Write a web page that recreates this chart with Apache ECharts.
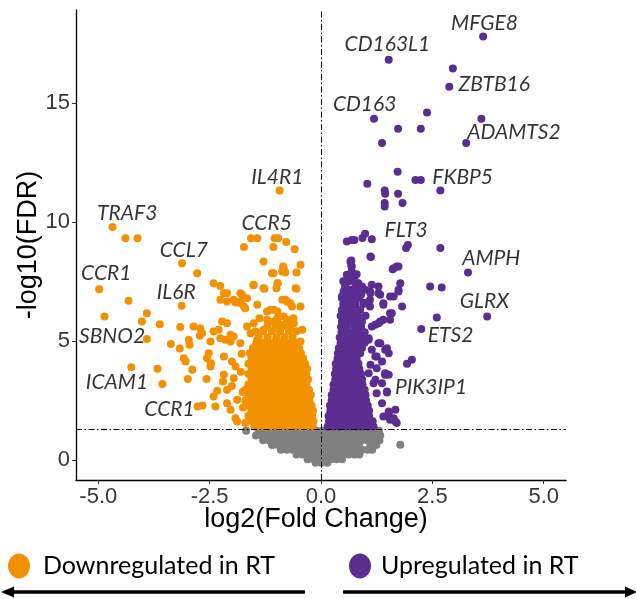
<!DOCTYPE html>
<html><head><meta charset="utf-8">
<script src="https://cdn.jsdelivr.net/npm/echarts@6/dist/echarts.min.js"></script>
<style>html,body{margin:0;padding:0;background:#fff}#c{width:636px;height:599px}</style>
</head><body><div id="c"></div>
<script>
const xTicks = [-5, -2.5, 0, 2.5, 5];
const yTicks = [0, 5, 10, 15];
const fdrThreshold = 1.3;
const xTitle = 'log2(Fold Change)';
const yTitle = '-log10(FDR)';
const legendItems = ['Downregulated in RT', 'Upregulated in RT'];

// downregulated (orange), isolated points
const downScatter = [
[-0.93,11.32],[-4.68,9.78],[-4.39,9.31],[-4.12,9.31],
[-1.57,9.31],[-1.43,9.31],[-1.04,9.31],[-0.96,9.31],[-1.73,8.94],[-1.07,8.94],[-0.78,9.15],[-0.59,8.85],
[-1.29,8.33],[-0.85,8.12],[-0.87,7.91],[-0.80,7.87],[-0.46,8.19],[-0.55,7.87],[-1.10,7.84],
[-0.97,7.42],[-1.00,7.21],[-1.52,7.33],[-1.27,7.19],[-0.55,7.19],
[-2.26,7.30],[-2.11,7.00],[-2.11,6.65],[-1.92,6.61],[-1.77,6.93],[-1.66,6.79],[-1.73,6.44],
[-0.87,6.72],[-0.76,6.65],[-0.65,6.44],[-1.13,6.30],[-1.06,6.30],
[-3.12,8.26],[-2.78,7.84],
[-4.98,7.17],[-4.32,6.68],[-4.86,6.02],[-3.91,6.16],[-4.02,5.81],
[-3.13,6.47],[-3.62,5.69],[-3.16,5.58],
[-3.91,5.07],[-3.37,4.86],[-2.97,5.04],[-2.95,4.83],[-3.17,4.68],[-3.08,4.27],[-3.04,4.13],
[-2.72,5.21],[-2.67,5.32],
[-2.48,4.97],[-2.52,4.48],[-2.56,4.27],[-2.47,4.06],[-2.48,3.92],[-2.26,5.11],
[-4.26,3.89],[-3.67,3.82],[-3.56,3.18],[-2.99,3.39],[-2.89,3.78],[-2.57,3.39],
[-2.77,2.24],[-2.66,2.28],[-2.41,2.66],[-2.37,2.24],[-2.20,3.29],[-2.11,2.38],[-2.03,2.10],[-1.88,1.61],
[-2.41,7.42],[-2.26,6.72],[-1.81,7.00],[-1.81,6.65],[-1.70,6.37],[-1.51,7.35],[-1.29,7.21],[-1.43,6.51],[-1.21,6.23],[-0.98,6.23],[-0.84,6.02],
[-1.07,7.84],[-0.84,8.05],[-0.98,7.42],[-0.57,7.21],[-0.80,6.72],[-0.69,6.58],[-0.46,6.44],
[-2.86,5.60],[-2.71,5.53],[-2.41,5.39],[-2.30,5.46],[-2.11,5.74],[-2.15,5.04],[-2.03,4.97],[-1.96,5.18],[-1.81,4.90],[-1.66,5.60],[-1.58,5.32],[-1.51,5.74],[-1.47,5.39],[-1.43,5.04],[-1.29,5.46],[-1.21,5.88],[-1.06,5.81],[-0.91,5.67],[-0.76,5.88],[-0.61,5.74],[-0.42,5.46],[-0.46,4.97],
[-2.18,7.00],[-1.96,6.72],[-1.81,6.58],[-2.22,5.81],[-2.03,5.25],[-2.18,4.34],[-2.00,4.13],[-1.92,3.92],[-2.18,3.57],[-1.96,3.43],[-2.11,2.94],[-1.88,2.52],[-1.92,1.75],[-2.33,2.90],[-2.00,3.10],
[-1.78,4.45],[-1.80,3.70],[-1.76,2.85],[-1.75,2.20],[-1.70,1.55]
];
// downregulated dense cloud, rows of [y, x values]
const downCoreRows = [
[1.40,[-1.50,-1.37,-1.24,-1.11,-0.98,-0.85,-0.72,-0.59,-0.46,-0.33,-0.18]],
[1.62,[-1.56,-1.43,-1.30,-1.17,-1.04,-0.91,-0.78,-0.65,-0.52,-0.39,-0.26,-0.17]],
[1.84,[-1.63,-1.50,-1.37,-1.24,-1.11,-0.98,-0.85,-0.72,-0.59,-0.46,-0.33,-0.20]],
[2.06,[-1.56,-1.43,-1.30,-1.17,-1.04,-0.91,-0.78,-0.65,-0.52,-0.39,-0.26,-0.18]],
[2.28,[-1.63,-1.50,-1.37,-1.24,-1.11,-0.98,-0.85,-0.72,-0.59,-0.46,-0.33,-0.21]],
[2.50,[-1.70,-1.56,-1.43,-1.30,-1.17,-1.04,-0.91,-0.78,-0.65,-0.52,-0.39,-0.26]],
[2.72,[-1.63,-1.50,-1.37,-1.24,-1.11,-0.98,-0.85,-0.72,-0.59,-0.46,-0.33,-0.23]],
[2.94,[-1.70,-1.56,-1.43,-1.30,-1.17,-1.04,-0.91,-0.78,-0.65,-0.52,-0.39,-0.27]],
[3.16,[-1.63,-1.50,-1.37,-1.24,-1.11,-0.98,-0.85,-0.72,-0.59,-0.46,-0.33]],
[3.38,[-1.56,-1.43,-1.30,-1.17,-1.04,-0.91,-0.78,-0.65,-0.52,-0.39,-0.29]],
[3.60,[-1.63,-1.50,-1.37,-1.24,-1.11,-0.98,-0.85,-0.72,-0.59,-0.46,-0.33]],
[3.82,[-1.56,-1.43,-1.30,-1.17,-1.04,-0.91,-0.78,-0.65,-0.52,-0.39,-0.31]],
[4.04,[-1.63,-1.50,-1.37,-1.24,-1.11,-0.98,-0.85,-0.72,-0.59,-0.46,-0.36]],
[4.26,[-1.56,-1.43,-1.30,-1.17,-1.04,-0.91,-0.78,-0.65,-0.52,-0.40]],
[4.48,[-1.60,-1.47,-1.34,-1.21,-1.08,-0.95,-0.82,-0.69,-0.56,-0.45]],
[4.70,[-1.53,-1.40,-1.27,-1.14,-1.01,-0.88,-0.75,-0.62,-0.49]],
[4.92,[-1.45,-1.32,-1.19,-1.06,-0.93,-0.80,-0.67,-0.55]],
[5.15,[-1.40,-1.20,-1.00,-0.82,-0.64]],
[5.40,[-1.30,-1.10,-0.92,-0.72,-0.55]],
[5.62,[-1.20,-1.02,-0.84,-0.68]],
[5.95,[-1.38,-0.98,-0.62]]
];
// upregulated (purple), isolated points
const upScatter = [
[3.64,17.79],[1.52,16.81],[2.96,16.44],[2.88,15.67],[1.19,14.33],[2.38,14.59],[3.60,14.33],[1.73,13.91],[2.24,13.91],[1.37,13.31],[3.26,13.31],
[1.72,12.10],[2.12,11.76],[2.24,11.76],[1.04,11.60],[1.43,11.32],[1.44,11.18],[1.73,11.18],[2.68,11.32],[1.43,10.79],[1.43,10.64],[1.83,10.79],
[3.30,7.87],[3.73,6.02],[2.60,5.98],[2.25,5.49],
[0.58,9.17],[0.69,9.24],[0.75,9.24],[0.93,9.32],[0.99,9.50],[1.14,9.27],[1.95,9.03],[1.91,8.90],[2.68,8.90],[0.68,8.37],[0.68,8.15],[1.12,8.52],[1.61,8.01],[1.74,8.12],[2.45,7.28],[2.71,7.24],
[0.92,7.28],[1.14,7.35],[1.29,7.28],[1.10,7.07],[1.10,6.72],[1.10,6.44],[1.33,6.93],[1.55,6.86],[1.74,7.07],[1.78,7.42],[1.82,6.44],[1.40,6.58],
[0.66,8.33],[0.69,8.12],[0.69,7.91],[0.66,7.70],[0.62,7.49],[0.54,7.28],[0.51,7.07],[0.47,6.86],[0.54,6.72],[0.66,7.14],[0.77,7.28],[0.84,7.42],[0.92,7.21],[0.99,7.14],[1.11,7.00],[1.29,7.00],[1.11,8.54],[1.70,8.12],[1.63,8.05],[1.74,7.14],[1.63,6.86],[1.40,6.51],[1.59,6.16],[0.88,6.30],
[1.33,5.81],[1.40,5.88],[1.14,5.60],[1.22,5.67],[1.07,5.11],[1.33,4.90],[1.48,4.69],[1.14,4.62],[1.25,4.34],[1.52,4.48],[1.11,3.99],[1.44,3.57],[1.37,3.22],
[1.93,4.03],[2.04,4.20],[1.52,3.57],[1.48,2.83],[1.52,2.03],[1.67,2.10],[1.70,1.54],
[1.55,6.16],[1.55,5.88],[1.29,5.74],[1.07,5.04],[1.29,4.90],[1.44,4.62],[1.22,4.34],[1.37,4.13],[1.25,3.85],[1.44,3.64],[1.22,3.36],[1.48,2.87],[1.52,1.96],[1.63,1.75],[1.67,1.61],
[1.40,1.82],[1.55,1.68],[1.37,2.38],[1.25,2.80],[1.18,3.22],[1.07,3.64],
[0.50,7.50],[0.75,7.55],[0.58,7.78],[0.80,7.80],[0.90,6.95],[0.96,6.60]
];
// upregulated dense cloud, rows of [y, x values]
const upCoreRows = [
[1.40,[0.15,0.28,0.41,0.54,0.67,0.80,0.93,1.06,1.18]],
[1.62,[0.18,0.31,0.44,0.57,0.70,0.83,0.96,1.09,1.16]],
[1.84,[0.17,0.30,0.43,0.56,0.69,0.82,0.95,1.08]],
[2.06,[0.21,0.34,0.47,0.60,0.73,0.86,0.99,1.08]],
[2.28,[0.20,0.33,0.46,0.59,0.72,0.85,0.98,1.05]],
[2.50,[0.24,0.37,0.50,0.63,0.76,0.89,1.01]],
[2.72,[0.24,0.37,0.50,0.63,0.76,0.89,1.00]],
[2.94,[0.28,0.41,0.54,0.67,0.80,0.93,0.98]],
[3.16,[0.28,0.41,0.54,0.67,0.80,0.93]],
[3.38,[0.32,0.45,0.58,0.71,0.84,0.92]],
[3.60,[0.31,0.44,0.57,0.70,0.83,0.90]],
[3.82,[0.34,0.47,0.60,0.73,0.86]],
[4.04,[0.33,0.46,0.59,0.72,0.84]],
[4.26,[0.37,0.50,0.63,0.76,0.80]],
[4.48,[0.38,0.51,0.64,0.76,0.88]],
[4.70,[0.40,0.53,0.66,0.79,0.92]],
[4.92,[0.44,0.57,0.70,0.85,0.98]],
[5.14,[0.42,0.55,0.68,0.80,0.90]],
[5.36,[0.46,0.59,0.72,0.85,0.98]],
[5.58,[0.45,0.58,0.75,0.90]],
[5.80,[0.47,0.60,0.70,0.80,0.92]],
[6.05,[0.44,0.57,0.70,0.83,1.00]],
[6.30,[0.47,0.62,0.75]],
[6.55,[0.50,0.64,0.77,0.95]],
[6.80,[0.47,0.58,0.70,0.85]],
[7.05,[0.51,0.64,0.77]]
];
// not significant (grey), rows of [y, x values]
const nsRows = [
[1.22,[-1.68,-1.40,-1.27,-1.14,-1.01,-0.88,-0.75,-0.62,-0.49,-0.36,-0.23,-0.10,0.03,0.16,0.29,0.42,0.55,0.68,0.81,0.94,1.07,1.20,1.30]],
[1.02,[-1.46,-1.33,-1.20,-1.07,-0.94,-0.81,-0.68,-0.55,-0.42,-0.29,-0.16,-0.03,0.10,0.23,0.36,0.49,0.62,0.75,0.88,1.01,1.14,1.27,1.33]],
[0.82,[-1.30,-1.17,-1.04,-0.91,-0.78,-0.65,-0.52,-0.39,-0.26,-0.13,0.00,0.13,0.26,0.39,0.52,0.65,0.78,0.91,1.04,1.17,1.31]],
[0.62,[-1.10,-0.97,-0.84,-0.71,-0.58,-0.45,-0.32,-0.19,-0.06,0.07,0.20,0.33,0.46,0.59,0.72,0.85,1.11,1.24]],
[0.42,[-0.90,-0.77,-0.64,-0.51,-0.38,-0.25,-0.12,0.01,0.14,0.27,0.40,0.53,0.66,0.79,0.92,1.05,1.15]],
[0.22,[-0.55,-0.42,-0.29,-0.16,-0.03,0.10,0.23,0.36,0.49,0.62,0.75,0.86]],
[0.02,[-0.30,-0.17,-0.04,0.09,0.22,0.35,0.47]],
[-0.12,[-0.12,0.01,0.14]]
];
const nsScatter = [[1.78,0.63]];
// gene labels: [name, x, y] (label centre in data units)
const geneLabels = [
['MFGE8',3.67,18.35],['CD163L1',1.49,17.45],['ZBTB16',3.89,15.76],['CD163',0.98,14.92],['ADAMTS2',4.33,13.78],
['FKBP5',3.18,11.89],['FLT3',1.91,9.66],['AMPH',3.82,8.45],['GLRX',3.67,6.65],['ETS2',2.91,5.25],['PIK3IP1',2.47,3.05],
['IL4R1',-0.98,11.87],['TRAF3',-4.35,10.34],['CCR5',-1.22,9.92],['CCL7',-3.08,8.79],['CCR1',-4.82,7.82],
['IL6R',-3.25,7.04],['SBNO2',-4.69,5.18],['ICAM1',-4.58,3.26],['CCR1',-3.40,2.14]
];

const ORANGE = '#F39200', PURPLE = '#5B2D90', GREY = '#808080';
function rowsToPoints(rows){const out=[];rows.forEach(r=>r[1].forEach(x=>out.push([x,r[0]])));return out;}

const chart = echarts.init(document.getElementById('c'), null, {renderer:'canvas'});
const axisFont = {fontSize:22, color:'#383838', fontFamily:'Liberation Sans, Arial, sans-serif'};
chart.setOption({
  animation:false,
  grid:{left:76,right:70,top:10,bottom:119},
  xAxis:{type:'value',min:-5.5,max:5.5,splitLine:{show:false},
    axisLine:{onZero:false,lineStyle:{color:'#000',width:1.3}},
    axisTick:{show:true,length:4,customValues:xTicks,lineStyle:{color:'#333'}},
    axisLabel:Object.assign({customValues:xTicks,formatter:v=>Number(v).toFixed(1),margin:6},axisFont)},
  yAxis:{type:'value',min:-0.85,max:18.9,splitLine:{show:false},
    axisLine:{show:true,onZero:false,lineStyle:{color:'#000',width:1.3}},
    axisTick:{show:true,length:4,customValues:yTicks,lineStyle:{color:'#333'}},
    axisLabel:Object.assign({customValues:yTicks,formatter:v=>String(v),margin:6},axisFont)},
  series:[
    {type:'scatter',symbolSize:8,itemStyle:{color:GREY,opacity:1},data:rowsToPoints(nsRows).concat(nsScatter),z:2,silent:true},
    {type:'scatter',symbolSize:8,itemStyle:{color:ORANGE,opacity:1},data:downScatter.concat(rowsToPoints(downCoreRows)),z:3,silent:true},
    {type:'scatter',symbolSize:8,itemStyle:{color:PURPLE,opacity:1},data:upScatter.concat(rowsToPoints(upCoreRows)),z:3,silent:true},
    {type:'scatter',symbolSize:0,z:6,silent:true,
      data:geneLabels.map(g=>({name:g[0],value:[g[1],g[2]]})),
      label:{show:true,position:'inside',formatter:p=>p.name,fontStyle:'italic',fontSize:21,fontFamily:'Lato, Liberation Sans, sans-serif',color:'#000'}},
    {type:'scatter',data:[],z:5,silent:true,
      markLine:{silent:true,symbol:['none','none'],label:{show:false},animation:false,
        lineStyle:{color:'#000',width:1,type:[6,2.5,1.5,2.5]},
        data:[{xAxis:0},{yAxis:fdrThreshold}]}}
  ],
  graphic:[
    {type:'text',x:316,y:520,style:{text:xTitle,fontSize:27,fontFamily:'Liberation Sans, Arial, sans-serif',fill:'#000',align:'center',verticalAlign:'middle'}},
    {type:'text',x:29,y:245,rotation:Math.PI/2,style:{text:yTitle,fontSize:27,fontFamily:'Liberation Sans, Arial, sans-serif',fill:'#000',align:'center',verticalAlign:'middle'}},
    {type:'ellipse',shape:{cx:19,cy:566,rx:11,ry:12.5},style:{fill:ORANGE}},
    {type:'text',x:43,y:566,style:{text:legendItems[0],fontSize:25,fontFamily:'Lato, sans-serif',fill:'#000',verticalAlign:'middle'}},
    {type:'ellipse',shape:{cx:360,cy:566,rx:11,ry:12.5},style:{fill:PURPLE}},
    {type:'text',x:381,y:566,style:{text:legendItems[1],fontSize:25,fontFamily:'Lato, sans-serif',fill:'#000',verticalAlign:'middle'}},
    {type:'line',shape:{x1:305,y1:592,x2:10,y2:592},style:{stroke:'#000',lineWidth:3.5}},
    {type:'polygon',shape:{points:[[1,592],[14,586.5],[14,597.5]]},style:{fill:'#000'}},
    {type:'line',shape:{x1:343,y1:592,x2:628,y2:592},style:{stroke:'#000',lineWidth:3.5}},
    {type:'polygon',shape:{points:[[637,592],[625,586.5],[625,597.5]]},style:{fill:'#000'}}
  ]
});
</script></body></html>
